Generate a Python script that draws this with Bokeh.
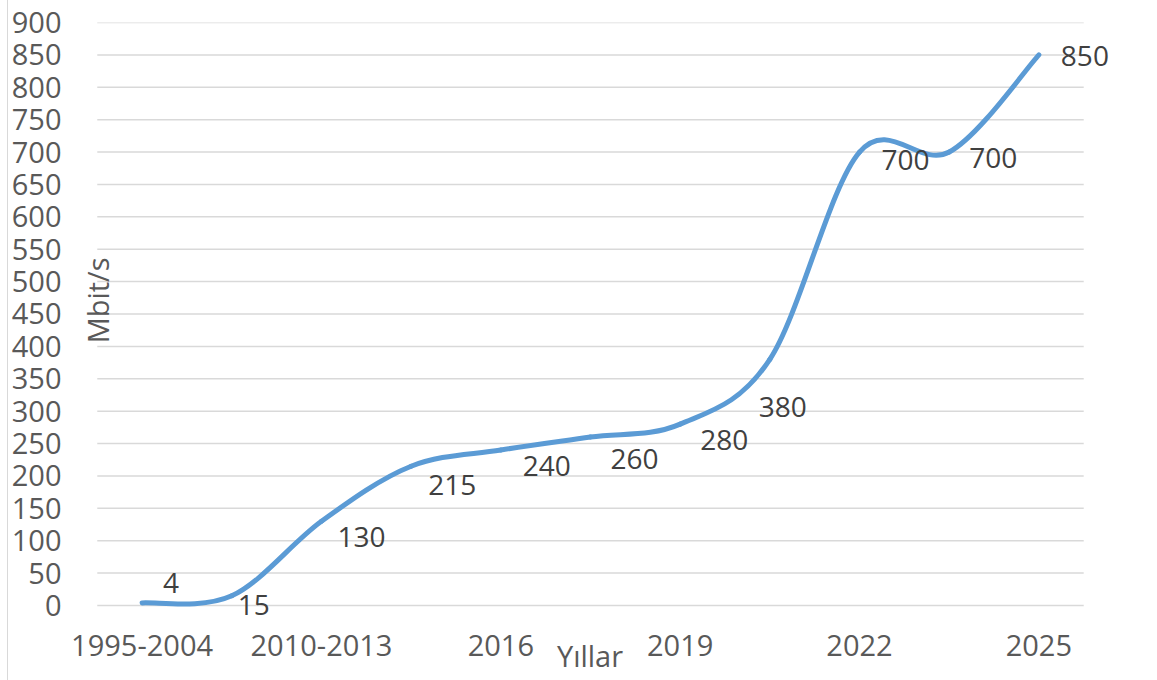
from bokeh.plotting import figure
from bokeh.models import ColumnDataSource, FixedTicker, LabelSet, Label, Range1d
from bokeh.core.properties import value
from bokeh.embed import file_html
from bokeh.resources import INLINE

# ---- data ----
categories = ["1995-2004", "2005-2009", "2010-2013", "2014-2015", "2016", "2017-2018",
              "2019", "2020-2021", "2022", "2023-2024", "2025"]
speeds = [4, 15, 130, 215, 240, 260, 280, 380, 700, 700, 850]
y_ticks = list(range(0, 901, 50))

# label placement (pixel offsets, layout only)
label_dx = [29, 22, 40, 41, 46, 44, 44, 13, 46, 44, 46]
label_dy = [20, -9, -16, -19, -16, -22, -16, -48, -8, -6, -1]

FONT = "Open Sans"
FS = "28px"
TICK_FS = "29px"
TICK_COLOR = "#595959"
LABEL_COLOR = "#404040"
LINE_COLOR = "#5B9BD5"
GRID_COLOR = "#d9d9d9"

n = len(speeds)
xs = list(range(n))

# Smoothed line (Catmull-Rom style bezier like Excel's smoothing)
x0, y0, x1, y1, cx0, cy0, cx1, cy1 = [], [], [], [], [], [], [], []
for i in range(n - 1):
    pm = max(i - 1, 0)
    pp = min(i + 2, n - 1)
    x0.append(xs[i]); y0.append(speeds[i])
    x1.append(xs[i + 1]); y1.append(speeds[i + 1])
    cx0.append(xs[i] + (xs[i + 1] - xs[pm]) / 6.0)
    cy0.append(speeds[i] + (speeds[i + 1] - speeds[pm]) / 6.0)
    cx1.append(xs[i + 1] - (xs[pp] - xs[i]) / 6.0)
    cy1.append(speeds[i + 1] - (speeds[pp] - speeds[i]) / 6.0)

bez = ColumnDataSource(dict(x0=x0, y0=y0, x1=x1, y1=y1, cx0=cx0, cy0=cy0, cx1=cx1, cy1=cy1))

p = figure(width=1149, height=680, output_backend="svg", toolbar_location=None,
           x_range=Range1d(-0.832, n - 1 + 0.821), y_range=Range1d(-17, 900),
           min_border_left=54, min_border_right=45, min_border_top=22, min_border_bottom=64)
p.outline_line_color = None
p.background_fill_color = "white"
p.border_fill_color = "white"
p.styles = {"margin-left": "7px", "margin-top": "0px",
            "border-left": "1px solid #d9d9d9"}

# horizontal gridlines over the category span
p.segment(x0=[-0.5] * len(y_ticks), x1=[n - 0.5] * len(y_ticks), y0=y_ticks, y1=y_ticks,
          line_color=GRID_COLOR, line_width=1.5)

p.bezier(x0="x0", y0="y0", x1="x1", y1="y1", cx0="cx0", cy0="cy0", cx1="cx1", cy1="cy1",
         source=bez, line_color=LINE_COLOR, line_width=5, line_cap="round")

# axes
p.xaxis.ticker = FixedTicker(ticks=xs[::2])
p.xaxis.major_label_overrides = {i: categories[i] for i in xs[::2]}
p.yaxis.ticker = FixedTicker(ticks=y_ticks)
for ax in (p.xaxis[0], p.yaxis[0]):
    ax.axis_line_color = None
    ax.major_tick_line_color = None
    ax.minor_tick_line_color = None
    ax.major_label_text_font = FONT
    ax.major_label_text_font_size = TICK_FS
    ax.major_label_text_color = TICK_COLOR
p.yaxis.major_label_standoff = 0
p.xaxis.major_label_standoff = 12
p.xaxis.axis_label = "Yıllar"
p.xaxis.axis_label_text_font = FONT
p.xaxis.axis_label_text_font_size = TICK_FS
p.xaxis.axis_label_text_font_style = "normal"
p.xaxis.axis_label_text_color = TICK_COLOR
p.xaxis.axis_label_standoff = -23

p.xgrid.grid_line_color = None
p.ygrid.grid_line_color = None

# data labels
lab = ColumnDataSource(dict(x=xs, y=speeds, text=[str(v) for v in speeds], dx=label_dx, dy=label_dy))
p.add_layout(LabelSet(x="x", y="y", text="text", source=lab, x_offset="dx", y_offset="dy",
                      text_align="center", text_baseline="middle", text_font=value(FONT),
                      text_font_size=value(FS), text_color=LABEL_COLOR))

# y axis title (drawn inside the plot area like the original)
p.add_layout(Label(x=-0.50, y=471, text="Mbit/s", angle=90, angle_units="deg",
                   text_align="center", text_baseline="middle", text_font=FONT,
                   text_font_size=TICK_FS, text_color=TICK_COLOR))

open("out.html", "w").write(file_html(p, INLINE))
